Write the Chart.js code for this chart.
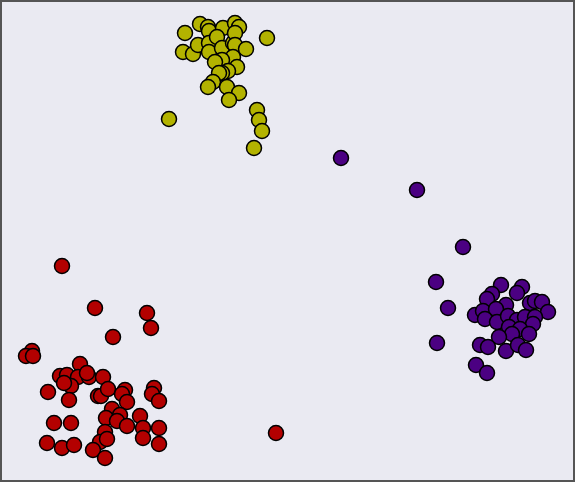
<!DOCTYPE html>
<html>
<head>
<meta charset="utf-8">
<script src="https://cdn.jsdelivr.net/npm/chart.js@4"></script>
<style>
  html, body { margin: 0; padding: 0; background: #ffffff; }
  #wrap { width: 577px; height: 484px; }
</style>
</head>
<body>
<div id="wrap"><canvas id="scatter" width="577" height="484"></canvas></div>
<script>
// cluster points (x, y)
const yellowX = [185, 200, 208, 209, 223, 235, 239, 267, 183, 193, 198, 209, 209, 217, 222, 233, 235, 235, 246, 233, 222, 215, 237, 228, 222, 219, 213, 208, 227, 239, 229, 257, 259, 262, 254, 169];
const yellowY = [33, 24, 27, 31, 28, 23, 27, 38, 52, 54, 45, 43, 52, 37, 48, 43, 33, 45, 49, 57, 60, 62, 67, 71, 73, 73, 82, 87, 87, 93, 100, 110, 120, 131, 148, 119];

const redX = [62, 95, 147, 151, 113, 32, 26, 33, 80, 60, 67, 78, 89, 103, 87, 71, 64, 48, 69, 98, 101, 108, 125, 122, 127, 154, 152, 159, 112, 106, 120, 117, 127, 140, 143, 159, 143, 159, 54, 71, 105, 100, 107, 93, 105, 47, 62, 74, 276];
const redY = [266, 308, 313, 328, 337, 351, 356, 356, 364, 376, 375, 377, 377, 377, 373, 386, 383, 392, 400, 396, 396, 389, 390, 394, 402, 388, 394, 401, 409, 418, 415, 421, 426, 416, 428, 428, 438, 444, 423, 423, 432, 442, 439, 450, 458, 443, 448, 445, 433];

const purpleX = [341, 417, 463, 436, 448, 437, 476, 487, 501, 522, 517, 492, 487, 506, 530, 535, 542, 548, 475, 483, 496, 485, 497, 508, 517, 525, 535, 533, 509, 520, 512, 529, 499, 480, 488, 506, 518, 526];
const purpleY = [158, 190, 247, 282, 308, 343, 365, 373, 285, 287, 293, 294, 299, 305, 303, 301, 302, 312, 315, 311, 309, 319, 322, 316, 320, 317, 317, 324, 327, 329, 334, 334, 337, 345, 347, 351, 345, 350];

const colors = ['#b3b300', '#b30000', '#4b0082'];

function toPoints(xs, ys) {
  return xs.map((x, i) => ({ x: x, y: ys[i] }));
}

// background + frame
const framePlugin = {
  id: 'frame',
  beforeDraw(chart) {
    const { ctx, chartArea: a } = chart;
    ctx.save();
    ctx.fillStyle = '#eaeaf2';
    ctx.fillRect(a.left, a.top, a.right - a.left, a.bottom - a.top);
    ctx.restore();
  },
  afterDraw(chart) {
    const { ctx, chartArea: a } = chart;
    ctx.save();
    ctx.strokeStyle = '#555555';
    ctx.lineWidth = 2;
    ctx.strokeRect(a.left, a.top, a.right - a.left, a.bottom - a.top);
    ctx.restore();
  }
};

const sets = [[yellowX, yellowY], [redX, redY], [purpleX, purpleY]];

new Chart(document.getElementById('scatter'), {
  type: 'scatter',
  data: {
    datasets: sets.map((s, i) => ({
      data: toPoints(s[0], s[1]),
      backgroundColor: colors[i],
      borderColor: '#000000',
      borderWidth: 1.5,
      pointRadius: 7.5,
      pointHoverRadius: 7.5,
      clip: false
    }))
  },
  options: {
    responsive: false,
    animation: false,
    layout: { autoPadding: false, padding: { left: 1, top: 1, right: 3, bottom: 3 } },
    scales: {
      x: { type: 'linear', min: 1, max: 574, display: false },
      y: { type: 'linear', min: 1, max: 481, reverse: true, display: false }
    },
    plugins: {
      legend: { display: false },
      tooltip: { enabled: false }
    }
  },
  plugins: [framePlugin]
});
</script>
</body>
</html>
